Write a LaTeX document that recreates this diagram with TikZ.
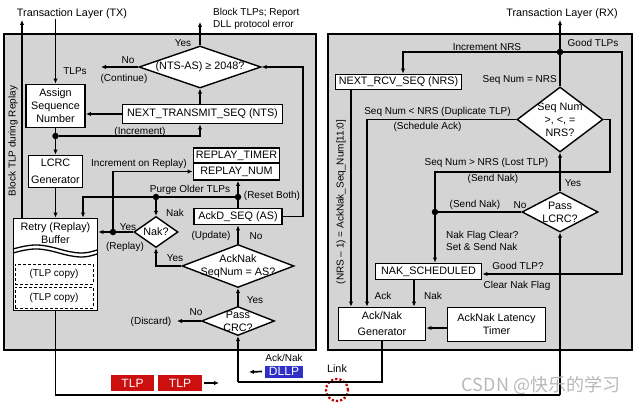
\documentclass[tikz,border=0pt]{standalone}
\usepackage{fontspec}
\setmainfont{Liberation Sans}
\newfontfamily\cjkfont{Noto Sans CJK SC}
\usetikzlibrary{arrows.meta,shapes.geometric}
\definecolor{tlpred}{RGB}{204,16,16}
\definecolor{dllpblue}{RGB}{48,48,200}
\newcommand\boxfont{\fontsize{10.8}{13}\selectfont}
\newcommand\lblfont{\fontsize{10}{12}\selectfont}

\begin{document}
\begin{tikzpicture}[x=1pt,y=-1pt,
        panel/.style={draw=black,fill=black!17,line width=2pt},
        blk/.style={draw=black,fill=white,line width=1.9pt,inner sep=0pt,align=center,font=\boxfont},
        dec/.style={diamond,draw=black,fill=white,line width=1.4pt,inner sep=0pt},
        dtext/.style={inner sep=0pt,align=center,font=\boxfont},
        lbl/.style={inner sep=0pt,font=\lblfont},
        wire/.style={line width=1.7pt},
        flow/.style={wire,-{Latex[length=5pt,width=4.5pt]}},
        dot/.style={circle,fill=black,inner sep=0pt,minimum size=6.5pt},
        copybox/.style={draw=black,densely dashed,line width=1pt,fill=white,inner sep=0pt,font=\lblfont},
        pkt/.style={inner sep=0pt,text=white,font=\fontsize{12}{12}\selectfont,minimum height=16pt}]
        \useasboundingbox (0,0) rectangle (640,404);
        \draw[panel] (4,34) rectangle (316,350);
        \draw[panel] (328,34) rectangle (632,350);

        \node[lbl,font=\boxfont] (txl) at (72,14) {Transaction Layer (TX)};
        \node[lbl,align=left,anchor=west] (blkl) at (213,18.5) {Block TLPs; Report\\DLL protocol error};
        \node[dec,minimum width=122pt,minimum height=42pt,label={[dtext]center:(NTS-AS) ≥ 2048?}] (ntsd) at (200,67) {};
        \node[blk,minimum width=59pt,minimum height=43pt] (asn) at (55.5,106) {Assign\\Sequence\\Number};
        \node[blk,minimum width=160pt,minimum height=19pt] (nts) at (202.5,114) {NEXT\_TRANSMIT\_SEQ (NTS)};
        \node[dot] (incd) at (55.5,136) {};
        \node[blk,minimum width=54pt,minimum height=32pt] (lcrc) at (55.5,171.5) {LCRC\\[4pt]Generator};
        \node[blk,minimum width=84pt,minimum height=92pt] (retry) at (55.5,264.5) {};
        \node[lbl,align=center,font=\boxfont] (retryt) at (55.5,233) {Retry (Replay)\\Buffer};
        \node[copybox,minimum width=78pt,minimum height=20pt] (cp1) at (54,274) {(TLP copy)};
        \node[copybox,minimum width=78pt,minimum height=21pt] (cp2) at (54,297.5) {(TLP copy)};
        \node[blk,minimum width=86pt,minimum height=15pt] (rtim) at (236.5,155.5) {REPLAY\_TIMER};
        \node[blk,minimum width=86pt,minimum height=17pt] (rnum) at (236.5,171.5) {REPLAY\_NUM};
        \node[blk,minimum width=88pt,minimum height=16pt] (ackd) at (238,216.5) {AckD\_SEQ (AS)};
        \node[dot] (rsd) at (238,197) {};
        \node[dot] (pgd) at (156,197) {};
        \node[dec,minimum width=44pt,minimum height=31pt,label={[dtext]center:Nak?}] (nakd) at (156,232) {};
        \node[dot] (rpd) at (113,232) {};
        \node[dec,minimum width=112pt,minimum height=43pt,label={[dtext]center:AckNak\\SeqNum = AS?}] (akd) at (238,266) {};
        \node[dec,minimum width=73pt,minimum height=29pt,label={[dtext]center:Pass\\CRC?}] (crcd) at (238,321) {};
        \coordinate (bkup) at (22,20);
        \coordinate (blkup) at (200,22);
        \coordinate (cont) at (101,67);
        \coordinate (ntsr) at (303,67);
        \coordinate (pgl) at (83,197);
        \coordinate (disc) at (177,321);
        \coordinate (lnkb) at (55.5,395);

        \node[pkt,fill=tlpred,minimum width=43pt] (tlp1) at (132.5,383) {TLP};
        \node[pkt,fill=tlpred,minimum width=44pt] (tlp2) at (180,383) {TLP};
        \coordinate (tlpend) at (219,383);
        \node[pkt,fill=dllpblue,minimum width=38pt,minimum height=12pt] (dllp) at (284,371.5) {DLLP};
        \node[lbl] (acknl) at (284,358) {Ack/Nak};
        \coordinate (dllpend) at (249,372);
        \node[lbl,font=\boxfont] (linkl) at (337,369) {Link};
        \node[circle,draw=red!75!black,dotted,line width=2.2pt,minimum size=22pt] (linkc) at (337,390) {};

        \node[lbl,font=\boxfont] (rxl) at (562,14) {Transaction Layer (RX)};
        \node[dot] (gtd) at (560,52) {};
        \node[blk,minimum width=126pt,minimum height=15pt] (nrs) at (398.5,82) {NEXT\_RCV\_SEQ (NRS)};
        \node[dec,minimum width=86pt,minimum height=65pt,label={[dtext]center:Seq Num\\{>, <, =}\\NRS?}] (sqd) at (560,119.5) {};
        \node[dec,minimum width=76pt,minimum height=40pt,label={[dtext]center:Pass\\LCRC?}] (lcd) at (560,212) {};
        \node[dot] (snd) at (435,212) {};
        \node[blk,minimum width=106pt,minimum height=16pt] (naks) at (428.5,271.5) {NAK\_SCHEDULED};
        \node[blk,minimum width=87pt,minimum height=33pt] (ang) at (382,324) {Ack/Nak\\[3pt]Generator};
        \node[blk,minimum width=98pt,minimum height=34pt] (alt) at (496.5,324.5) {AckNak Latency\\Timer};
        \coordinate (rxup) at (560,20);
        \coordinate (nrsc) at (403,52);
        \coordinate (gtr) at (622,52);
        \coordinate (gtb) at (622,274);
        \coordinate (sqr) at (610,119.5);
        \coordinate (lostr) at (610,172);
        \coordinate (lostl) at (435,172);
        \coordinate (dupl) at (367,119.5);
        \coordinate (akl) at (382,382);

        \draw[flow] (asn.north |- txl.south) -- (asn.north);
        \draw[flow] (retry.north -| bkup) -- (bkup);
        \draw[flow] (ntsd.north) -- (blkup);
        \draw[flow] (ntsd.west) -- (cont);
        \draw[flow] (nts.north -| ntsd.south) -- (ntsd.south);
        \draw[flow] (nts.west) -- (nts.west -| asn.east);
        \draw[wire] (asn.south) -- (incd);
        \draw[flow] (incd) -- (lcrc.north);
        \draw[flow] (incd) -- (incd -| ntsd.south) -- (nts.south -| ntsd.south);
        \draw[flow] (lcrc.south) -- (retry.north);
        \draw[flow] (ackd.east) -- (ackd.east -| ntsr) -- (ntsr) -- (ntsd.east);
        \draw[flow] (crcd.north) -- (akd.south);
        \draw[flow] (crcd.west) -- (disc);
        \draw[flow] (akd.north) -- (ackd.south);
        \draw[wire] (ackd.north) -- (rsd);
        \draw[flow] (rsd) -- (rsd |- rnum.south);
        \draw[flow] (rsd) -- (pgd) -- (pgl) -- (retry.north -| pgl);
        \draw[flow] (pgd) -- (nakd.north);
        \draw[flow] (akd.west) -- (akd.west -| nakd.south) -- (nakd.south);
        \draw[flow] (nakd.west) -- (rpd) -- (retry.east |- rpd);
        \draw[flow] (rpd) -- (rpd |- rnum.west) -- (rnum.west);
        \draw[wire] (retry.south) -- (lnkb) -- (lnkb -| lcd.south);
        \draw[flow] (lnkb -| lcd.south) -- (lcd.south);
        \draw[flow] ([xshift=2pt]tlp2.east) -- (tlpend);
        \draw[flow] ([xshift=-3pt]dllp.west) -- (dllpend);

        \draw[flow] (sqd.north) -- (rxup);
        \draw[flow] (gtd) -- (nrsc) -- (nrs.north -| nrsc);
        \draw[flow] (gtd) -- (gtr) -- (gtb) -- (naks.east |- gtb);
        \draw[flow] (lcd.north) -- (sqd.south);
        \draw[flow] (sqd.east) -- (sqr) -- (lostr) -- (lostl) -- (naks.north -| lostl);
        \draw[wire] (lcd.west) -- (snd);
        \draw[flow] (sqd.west) -- (dupl) -- (ang.north -| dupl);
        \draw[flow] ([xshift=-47.5pt]nrs.south) -- ([xshift=-47.5pt]nrs.south |- ang.north);
        \draw[flow] ([xshift=-14.5pt]naks.south) -- ([xshift=-14.5pt]naks.south |- ang.north);
        \draw[flow] ([yshift=-3.5pt]alt.west) -- ([yshift=-3.5pt]alt.west -| ang.east);
        \draw[wire] (ang.south) -- (akl) -- (akl -| crcd.south);
        \draw[flow] (akl -| crcd.south) -- (crcd.south);

        \draw[line width=1.3pt] (13,249) sin (36,245) cos (59,249) sin (82,253) cos (97,250);
        \draw[line width=1.3pt] (13,253) sin (36,249) cos (59,253) sin (82,257) cos (97,254);

        \node[lbl] (tlpsl) at (75,71) {TLPs};
        \node[lbl] (yes1) at (183,43) {Yes};
        \node[lbl] (no1) at (128,60) {No};
        \node[lbl] (contl) at (124,79) {(Continue)};
        \node[lbl] (incl) at (140,132) {(Increment)};
        \node[lbl] (incrl) at (139,164) {Increment on Replay)};
        \node[lbl] (purgel) at (190,190) {Purge Older TLPs};
        \node[lbl] (resetl) at (272,196) {(Reset Both)};
        \node[lbl] (nakl) at (175,213) {Nak};
        \node[lbl] (yes2) at (128,227) {Yes};
        \node[lbl] (replayl) at (125,247) {(Replay)};
        \node[lbl] (yes3) at (175,258) {Yes};
        \node[lbl] (updl) at (211,236) {(Update)};
        \node[lbl] (no2) at (256,236) {No};
        \node[lbl] (yes4) at (255,300) {Yes};
        \node[lbl] (no3) at (196,312) {No};
        \node[lbl] (discl) at (151,322) {(Discard)};
        \node[lbl,rotate=90] (bkl) at (13,141) {Block TLP during Replay};

        \node[lbl] (incnl) at (487,47) {Increment NRS};
        \node[lbl] (goodl) at (593,43) {Good TLPs};
        \node[lbl,anchor=east] (eql) at (557,80) {Seq Num = NRS};
        \node[lbl] (dupll) at (437.5,112) {Seq Num < NRS (Duplicate TLP)};
        \node[lbl] (schl) at (427.5,127) {(Schedule Ack)};
        \node[lbl] (lostll) at (486.5,163) {Seq Num > NRS (Lost TLP)};
        \node[lbl] (sn1) at (493,179) {(Send Nak)};
        \node[lbl] (yes5) at (573,183) {Yes};
        \node[lbl] (sn2) at (475,205) {(Send Nak)};
        \node[lbl] (no4) at (520,205) {No};
        \node[lbl,align=left,anchor=west] (flagl) at (446,241) {Nak Flag Clear?\\Set \& Send Nak};
        \node[lbl] (gtpl) at (518,266) {Good TLP?};
        \node[lbl] (clrl) at (517,286) {Clear Nak Flag};
        \node[lbl] (ackl) at (383,296) {Ack};
        \node[lbl] (nakl2) at (433,296) {Nak};
        \node[lbl,rotate=90] (nrsl) at (341,202) {(NRS – 1) = AckNak\_Seq\_Num[11:0]};
        \node[lbl,text=black!28,font=\cjkfont\fontsize{18}{18}\selectfont] (wm) at (541,385) {CSDN @快乐的学习};
    \end{tikzpicture}
\end{document}
